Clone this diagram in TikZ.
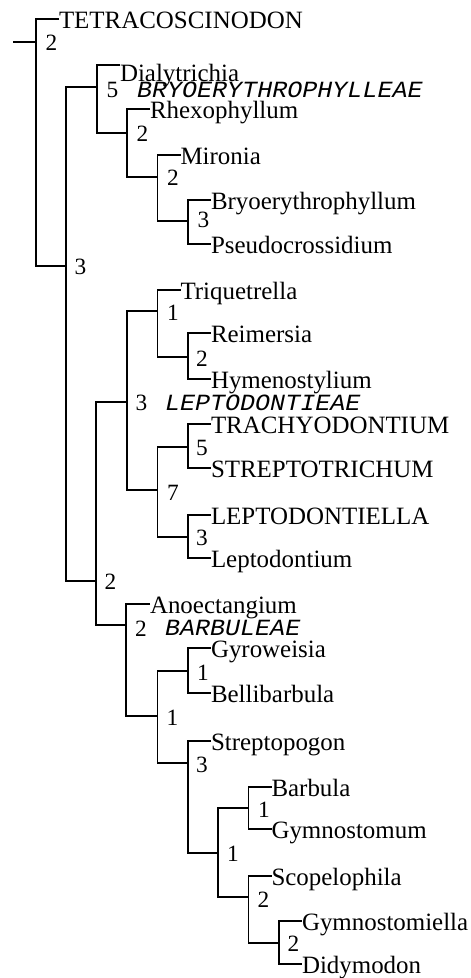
\documentclass[tikz,border=0pt]{standalone}
\usepackage{fontspec}
\setmainfont{Liberation Serif}
\newfontfamily\tribefont[FakeStretch=1.08]{Liberation Mono}
\begin{document}
\begin{tikzpicture}[x=0.75pt,y=-0.75pt,
  branch/.style={line width=1.4pt, line join=miter},
  leaf/.style={anchor=west, inner sep=0pt, outer sep=0pt, text height=13.5pt, text depth=0pt, font=\fontsize{18.7pt}{20pt}\selectfont},
  support/.style={anchor=west, inner sep=0pt, outer sep=0pt, font=\fontsize{17.5pt}{19pt}\selectfont},
  tribe/.style={anchor=base west, inner sep=0pt, outer sep=0pt, font=\tribefont\itshape\fontsize{17.4pt}{19pt}\selectfont}]
\useasboundingbox (0,0) rectangle (471,978);

% internal nodes (x, joining height)
\coordinate (start) at (13,42);
\coordinate (root) at (36,42);
\coordinate (A) at (66,266);
\coordinate (B) at (97,87);
\coordinate (C) at (127,133);
\coordinate (D) at (157.5,177);
\coordinate (E) at (188,221);
\coordinate (M) at (96,581);
\coordinate (L) at (127,402);
\coordinate (F) at (157.5,311);
\coordinate (G) at (188,357);
\coordinate (P) at (157.5,490);
\coordinate (Q) at (188,447);
\coordinate (R) at (188,537);
\coordinate (N) at (126,625);
\coordinate (S) at (157.5,716);
\coordinate (T) at (188,671);
\coordinate (U) at (188,763);
\coordinate (V) at (218,853);
\coordinate (W) at (248.5,808);
\coordinate (X) at (248.5,897);
\coordinate (Y) at (279,943);

% leaves
\node[leaf] (tetra) at (59,19) {TETRACOSCINODON};
\node[leaf, anchor=north west, text height=12.3pt] (dialy) at (120,65) {Dialytrichia};
\node[leaf] (rhexo) at (150,109) {Rhexophyllum};
\node[leaf] (mironia) at (180.5,155) {Mironia};
\node[leaf] (bryo) at (211,200) {Bryoerythrophyllum};
\node[leaf] (pseudo) at (211,244) {Pseudocrossidium};
\node[leaf] (triq) at (180.5,290) {Triquetrella};
\node[leaf] (reim) at (211,333) {Reimersia};
\node[leaf] (hymeno) at (211,379) {Hymenostylium};
\node[leaf] (trachy) at (211,424) {TRACHYODONTIUM};
\node[leaf] (strepto) at (211,468) {STREPTOTRICHUM};
\node[leaf] (leptella) at (211,515) {LEPTODONTIELLA};
\node[leaf] (leptium) at (211,558) {Leptodontium};
\node[leaf] (anoect) at (150,604) {Anoectangium};
\node[leaf] (gyro) at (211,648) {Gyroweisia};
\node[leaf] (belli) at (211,693) {Bellibarbula};
\node[leaf] (streptopogon) at (211,741) {Streptopogon};
\node[leaf] (barbula) at (271.5,787) {Barbula};
\node[leaf] (gymnostomum) at (271.5,829) {Gymnostomum};
\node[leaf] (scopelo) at (271.5,876) {Scopelophila};
\node[leaf] (gymnella) at (302,921) {Gymnostomiella};
\node[leaf] (didymodon) at (302,964) {Didymodon};

% tribe names
\node[tribe] (tbryo) at (137,97) {BRYOERYTHROPHYLLEAE};
\node[tribe] (tlepto) at (165,410) {LEPTODONTIEAE};
\node[tribe] (tbarb) at (165,635) {BARBULEAE};

% support values
\node[support] (lroot) at (45.5,43) {2};
\node[support] (lA) at (74.5,266.5) {3};
\node[support] (lB) at (106.5,89.5) {5};
\node[support] (lC) at (136.5,133.5) {2};
\node[support] (lD) at (167,177.5) {2};
\node[support] (lE) at (197.5,219.5) {3};
\node[support] (lM) at (104.5,581.5) {2};
\node[support] (lL) at (135.5,402.5) {3};
\node[support] (lF) at (167,312.5) {1};
\node[support] (lG) at (196,358.5) {2};
\node[support] (lP) at (167,493) {7};
\node[support] (lQ) at (196,447.5) {5};
\node[support] (lR) at (196,537.5) {3};
\node[support] (lN) at (135,629) {2};
\node[support] (lS) at (166.5,717.5) {1};
\node[support] (lT) at (197,673) {1};
\node[support] (lU) at (196,764.5) {3};
\node[support] (lV) at (227,853.5) {1};
\node[support] (lW) at (258,810) {1};
\node[support] (lX) at (257.5,900) {2};
\node[support] (lY) at (287.5,944) {2};

% branches
\draw[branch] (start) -- (root);
\draw[branch] (tetra.west) -| (root) |- (A);
\draw[branch] (B) -| (A) |- (M);
\draw[branch] (dialy.north west) -| (B) |- (C);
\draw[branch] (rhexo.west) -| (C) |- (D);
\draw[branch] (mironia.west) -| (D) |- (E);
\draw[branch] (bryo.west) -| (E) |- (pseudo.west);
\draw[branch] (L) -| (M) |- (N);
\draw[branch] (F) -| (L) |- (P);
\draw[branch] (triq.west) -| (F) |- (G);
\draw[branch] (reim.west) -| (G) |- (hymeno.west);
\draw[branch] (Q) -| (P) |- (R);
\draw[branch] (trachy.west) -| (Q) |- (strepto.west);
\draw[branch] (leptella.west) -| (R) |- (leptium.west);
\draw[branch] (anoect.west) -| (N) |- (S);
\draw[branch] (T) -| (S) |- (U);
\draw[branch] (gyro.west) -| (T) |- (belli.west);
\draw[branch] (streptopogon.west) -| (U) |- (V);
\draw[branch] (W) -| (V) |- (X);
\draw[branch] (barbula.west) -| (W) |- (gymnostomum.west);
\draw[branch] (scopelo.west) -| (X) |- (Y);
\draw[branch] (gymnella.west) -| (Y) |- (didymodon.west);
\end{tikzpicture}
\end{document}
